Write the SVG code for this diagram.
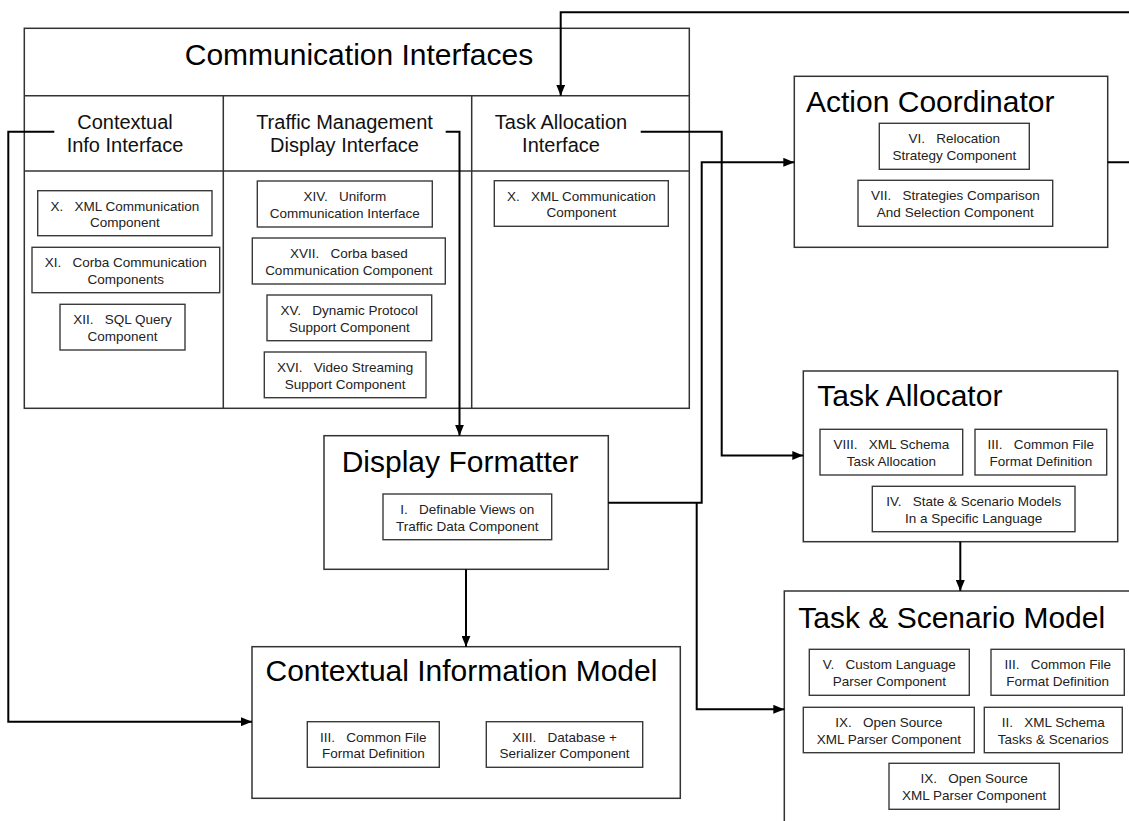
<svg xmlns="http://www.w3.org/2000/svg" width="1129" height="821" viewBox="0 0 1129 821">
<style>
.box{fill:#fff;stroke:#333;stroke-width:1.5}
.div{fill:none;stroke:#333;stroke-width:1.5}
.comp{fill:#fff;stroke:#3a3a3a;stroke-width:1.4}
text{font-family:"Liberation Sans",Arial,sans-serif}
.title{font-size:30px;fill:#000}
.head{font-size:20px;fill:#111;text-anchor:middle}
.ct{font-size:13.5px;fill:#222;text-anchor:middle}
.conn{fill:none;stroke:#000;stroke-width:2}
</style>
<defs>
<marker id="ah" markerUnits="userSpaceOnUse" markerWidth="11" markerHeight="9" refX="11" refY="4.5" orient="auto">
<path d="M0,0 L11,4.5 L0,9 z" fill="#000"/>
</marker>
</defs>
<rect width="1129" height="821" fill="#fff"/>

<g id="communication-interfaces">
<rect class="box" x="24.3" y="28.3" width="665" height="380"/>
<path class="div" d="M24.3,95.7 H689.3 M24.3,171 H689.3 M223.3,95.7 V408.3 M471.7,95.7 V408.3"/>
<text class="title" x="359" y="65" text-anchor="middle">Communication Interfaces</text>
<text class="head" x="125" y="128.5">Contextual</text>
<text class="head" x="125" y="152">Info Interface</text>
<text class="head" x="344.5" y="128.5">Traffic Management</text>
<text class="head" x="344.5" y="152">Display Interface</text>
<text class="head" x="561" y="128.5">Task Allocation</text>
<text class="head" x="561" y="152">Interface</text>
</g>

<g id="ci-x-xml">
<rect class="comp" x="37.7" y="190.7" width="174.3" height="45"/>
<text class="ct" x="124.8" y="210.7">X.&#160;&#160;&#160;XML Communication</text>
<text class="ct" x="124.8" y="227.2">Component</text>
</g>
<g id="ci-xi-corba">
<rect class="comp" x="32" y="247.3" width="187.7" height="45.4"/>
<text class="ct" x="125.8" y="267.3">XI.&#160;&#160;&#160;Corba Communication</text>
<text class="ct" x="125.8" y="283.8">Components</text>
</g>
<g id="ci-xii-sql">
<rect class="comp" x="60" y="304.3" width="125" height="45.7"/>
<text class="ct" x="122.5" y="324.3">XII.&#160;&#160;&#160;SQL Query</text>
<text class="ct" x="122.5" y="340.8">Component</text>
</g>
<g id="tm-xiv-uniform">
<rect class="comp" x="257.3" y="181" width="175" height="46"/>
<text class="ct" x="344.8" y="201">XIV.&#160;&#160;&#160;Uniform</text>
<text class="ct" x="344.8" y="217.5">Communication Interface</text>
</g>
<g id="tm-xvii-corba">
<rect class="comp" x="252.3" y="238" width="193" height="46"/>
<text class="ct" x="348.8" y="258">XVII.&#160;&#160;&#160;Corba based</text>
<text class="ct" x="348.8" y="274.5">Communication Component</text>
</g>
<g id="tm-xv-dynamic">
<rect class="comp" x="267" y="295" width="164.7" height="45.7"/>
<text class="ct" x="349.3" y="315">XV.&#160;&#160;&#160;Dynamic Protocol</text>
<text class="ct" x="349.3" y="331.5">Support Component</text>
</g>
<g id="tm-xvi-video">
<rect class="comp" x="264.3" y="352" width="161.7" height="45.7"/>
<text class="ct" x="345.2" y="372">XVI.&#160;&#160;&#160;Video Streaming</text>
<text class="ct" x="345.2" y="388.5">Support Component</text>
</g>
<g id="ta-x-xml">
<rect class="comp" x="494.3" y="180.7" width="174" height="45.6"/>
<text class="ct" x="581.3" y="200.7">X.&#160;&#160;&#160;XML Communication</text>
<text class="ct" x="581.3" y="217.2">Component</text>
</g>

<g id="action-coordinator">
<rect class="box" x="794.3" y="76.3" width="313.4" height="171"/>
<text class="title" x="806" y="112">Action Coordinator</text>
<rect class="comp" x="879.3" y="123.3" width="150" height="46"/>
<text class="ct" x="954.3" y="143.3">VI.&#160;&#160;&#160;Relocation</text>
<text class="ct" x="954.3" y="159.8">Strategy Component</text>
<rect class="comp" x="858" y="180.3" width="194.7" height="46"/>
<text class="ct" x="955.3" y="200.3">VII.&#160;&#160;&#160;Strategies Comparison</text>
<text class="ct" x="955.3" y="216.8">And Selection Component</text>
</g>

<g id="task-allocator">
<rect class="box" x="803.3" y="371" width="314.4" height="170.7"/>
<text class="title" x="817.3" y="405.7">Task Allocator</text>
<rect class="comp" x="820" y="429.3" width="142.7" height="45.7"/>
<text class="ct" x="891.3" y="449.3">VIII.&#160;&#160;&#160;XML Schema</text>
<text class="ct" x="891.3" y="465.8">Task Allocation</text>
<rect class="comp" x="975" y="429.3" width="131.7" height="45.7"/>
<text class="ct" x="1040.8" y="449.3">III.&#160;&#160;&#160;Common File</text>
<text class="ct" x="1040.8" y="465.8">Format Definition</text>
<rect class="comp" x="872.3" y="486.3" width="202.7" height="45.4"/>
<text class="ct" x="973.7" y="506.3">IV.&#160;&#160;&#160;State &amp; Scenario Models</text>
<text class="ct" x="973.7" y="522.8">In a Specific Language</text>
</g>

<g id="display-formatter">
<rect class="box" x="324" y="435.7" width="284.3" height="133.6"/>
<text class="title" x="341.7" y="471.7">Display Formatter</text>
<rect class="comp" x="383" y="494" width="168.7" height="45.7"/>
<text class="ct" x="467.3" y="514">I.&#160;&#160;&#160;Definable Views on</text>
<text class="ct" x="467.3" y="530.5">Traffic Data Component</text>
</g>

<g id="contextual-information-model">
<rect class="box" x="252" y="646.7" width="428.3" height="151.6"/>
<text class="title" x="265.5" y="681">Contextual Information Model</text>
<rect class="comp" x="307.3" y="721.7" width="132" height="45.6"/>
<text class="ct" x="373.3" y="741.7">III.&#160;&#160;&#160;Common File</text>
<text class="ct" x="373.3" y="758.2">Format Definition</text>
<rect class="comp" x="486.3" y="721.7" width="156.4" height="45.6"/>
<text class="ct" x="564.5" y="741.7">XIII.&#160;&#160;&#160;Database +</text>
<text class="ct" x="564.5" y="758.2">Serializer Component</text>
</g>

<g id="task-scenario-model">
<rect class="box" x="784.3" y="591" width="400" height="300"/>
<text class="title" x="798.3" y="628.3">Task &amp; Scenario Model</text>
<rect class="comp" x="809.3" y="649.3" width="160" height="46"/>
<text class="ct" x="889.3" y="669.3">V.&#160;&#160;&#160;Custom Language</text>
<text class="ct" x="889.3" y="685.8">Parser Component</text>
<rect class="comp" x="991" y="649.3" width="133.3" height="46"/>
<text class="ct" x="1057.7" y="669.3">III.&#160;&#160;&#160;Common File</text>
<text class="ct" x="1057.7" y="685.8">Format Definition</text>
<rect class="comp" x="803.3" y="707.3" width="171" height="45.4"/>
<text class="ct" x="888.8" y="727.3">IX.&#160;&#160;&#160;Open Source</text>
<text class="ct" x="888.8" y="743.8">XML Parser Component</text>
<rect class="comp" x="984.3" y="707.3" width="138" height="45.4"/>
<text class="ct" x="1053.3" y="727.3">II.&#160;&#160;&#160;XML Schema</text>
<text class="ct" x="1053.3" y="743.8">Tasks &amp; Scenarios</text>
<rect class="comp" x="889" y="763.3" width="170.3" height="46"/>
<text class="ct" x="974.2" y="783.3">IX.&#160;&#160;&#160;Open Source</text>
<text class="ct" x="974.2" y="799.8">XML Parser Component</text>
</g>

<g id="connectors">
<path class="conn" d="M1107.7,162.3 H1140 V12.3 H560.7 V95.7" marker-end="url(#ah)"/>
<path class="conn" d="M54.3,131.7 H8.3 V721.7 H252" marker-end="url(#ah)"/>
<path class="conn" d="M445.7,131.7 H459.5 V435.7" marker-end="url(#ah)"/>
<path class="conn" d="M640.7,131.7 H721.7 V455.5 H803.3" marker-end="url(#ah)"/>
<path class="conn" d="M608.3,502.7 H701.7 V162.3 H794.3" marker-end="url(#ah)"/>
<path class="conn" d="M696.7,502.7 V709.3 H784.3" marker-end="url(#ah)"/>
<path class="conn" d="M466,569.3 V646.7" marker-end="url(#ah)"/>
<path class="conn" d="M960.3,541.7 V591" marker-end="url(#ah)"/>
</g>
</svg>
